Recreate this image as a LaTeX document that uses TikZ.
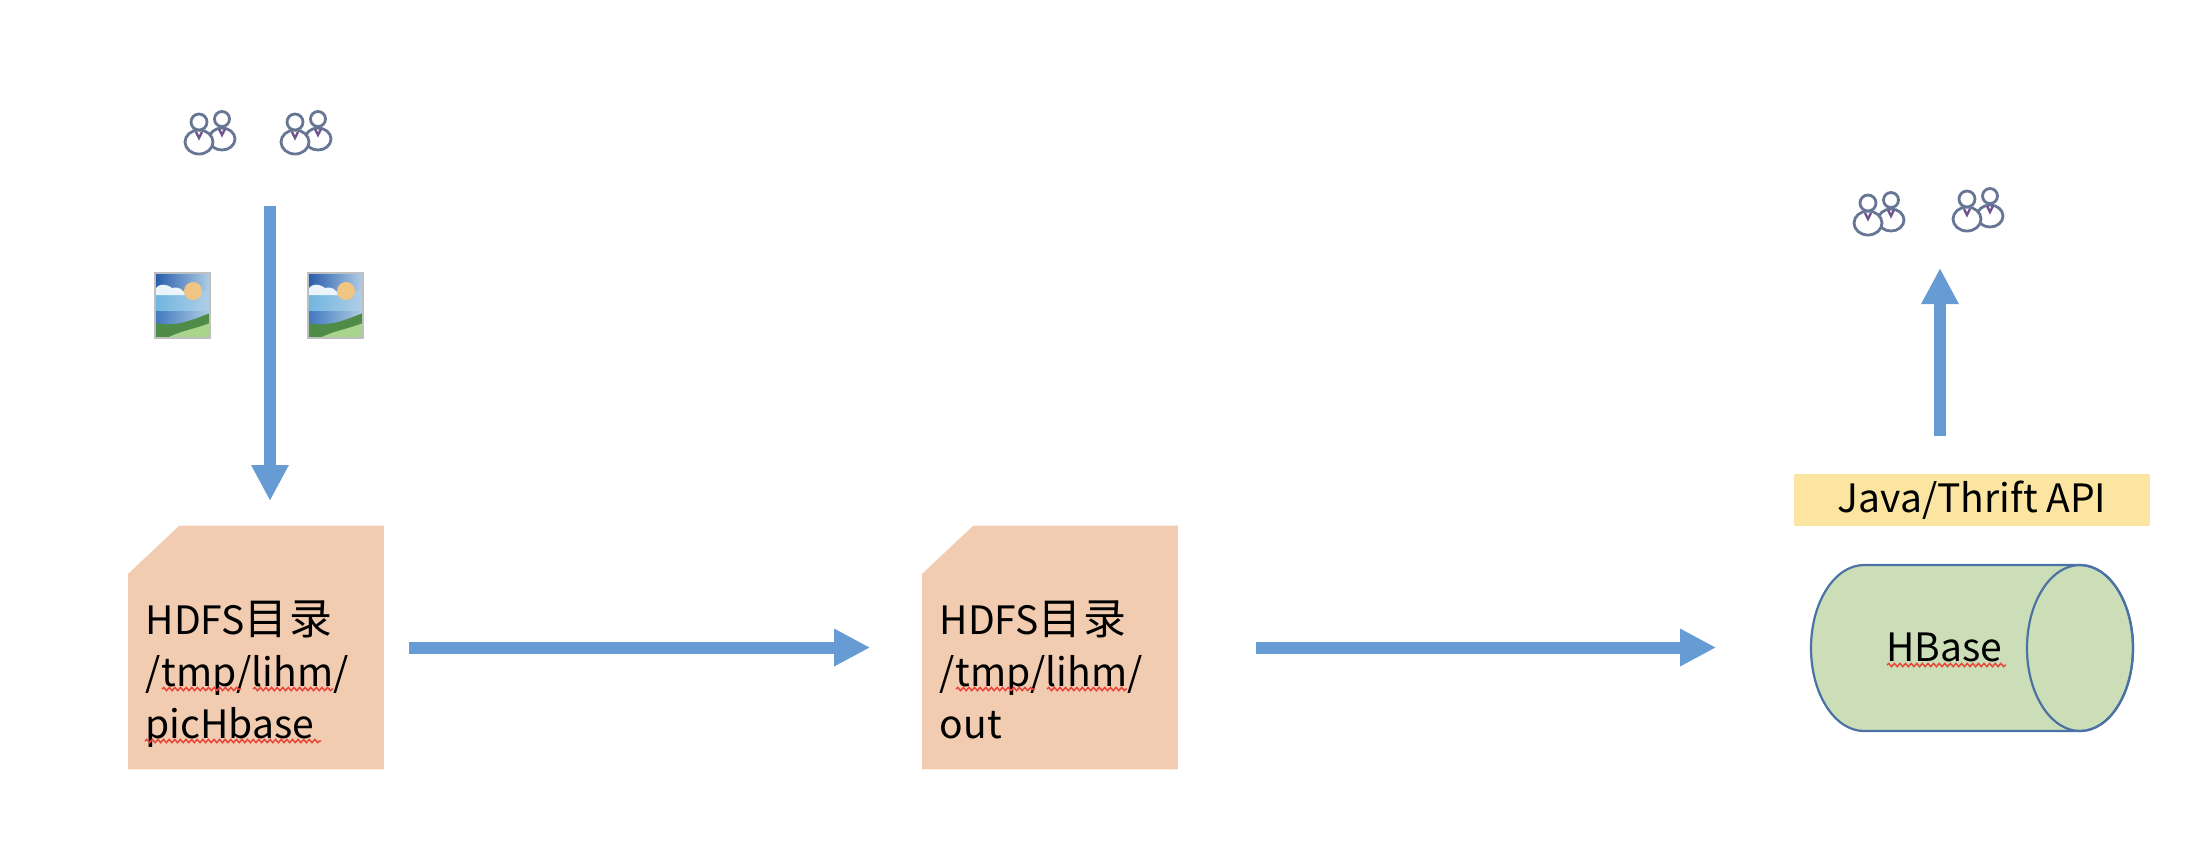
\documentclass[tikz,border=0pt]{standalone}
\usepackage{fontspec}
\setmainfont{Noto Sans CJK SC}
\definecolor{flowblue}{RGB}{103, 155, 211}
\definecolor{dirpeach}{RGB}{241, 204, 176}
\definecolor{apiyellow}{RGB}{251, 229, 160}
\definecolor{dbgreen}{RGB}{203, 222, 184}
\definecolor{dbedge}{RGB}{76, 114, 165}
\definecolor{waveRed}{RGB}{232, 70, 58}
\definecolor{iconblue}{RGB}{104, 118, 150}
\definecolor{skytop}{RGB}{40, 92, 172}
\definecolor{skyband}{RGB}{112, 182, 224}
\definecolor{skylight}{RGB}{176, 206, 230}
\definecolor{lakeblue}{RGB}{66, 120, 190}
\definecolor{hillgreen}{RGB}{78, 140, 72}
\definecolor{lawngreen}{RGB}{168, 212, 140}
\definecolor{sunpeach}{RGB}{240, 196, 130}
\usetikzlibrary{shapes, arrows.meta, positioning, calc, decorations.pathmorphing}
\newcommand{\mulu}{{\fontsize{12.2}{14.8}\selectfont 目\kern0.03em 录}}

\begin{document}
\begin{tikzpicture}[
  x=0.01cm, y=-0.01cm,
  dirbox/.style={minimum width=2.54cm, minimum height=2.42cm, inner sep=0pt},
  dirtext/.style={anchor=north west, align=left, inner sep=0pt, font=\fontsize{11.1}{14.8}\selectfont},
  plaintext/.style={inner sep=0pt, font=\fontsize{11.1}{14}\selectfont},
  flow/.style={line width=0.12cm, flowblue, -{Triangle[length=0.36cm, width=0.35cm]}},
  squiggle/.style={waveRed, line width=0.015cm, decorate, decoration={snake, segment length=0.056cm, amplitude=0.016cm}},
  people/.pic={
    \foreach \cx/\cy/\hr/\bx/\by in {12/-12/7.5/13/11, -11/-9/8/14/12} {
      \draw[iconblue, line width=0.028cm, fill=white] (\cx,\cy+20) ellipse[x radius=\bx, y radius=\by];
      \draw[iconblue, line width=0.028cm, fill=white] (\cx,\cy) circle[radius=\hr];
      \draw[iconblue!70!violet, line width=0.024cm] (\cx-3,\cy+10) -- (\cx,\cy+16) -- (\cx+3,\cy+10);
    }
  },
  photo/.pic={
    \begin{scope}
      \clip (0,0) rectangle (55,65);
      \fill[left color=skytop, right color=skylight] (0,0) rectangle (55,22);
      \fill[left color=skyband, right color=skylight] (0,18) rectangle (55,40);
      \fill[left color=lakeblue, right color=skylight] (0,38) rectangle (55,52);
      \fill[white!85!skyband] (0,22) .. controls (-2,11) and (10,9) .. (17,15) .. controls (24,13) and (29,17) .. (30,22) -- cycle;
      \fill[sunpeach] (38,18) circle[radius=9];
      \fill[hillgreen] (0,50) .. controls (20,54) and (35,48) .. (55,40) -- (55,65) -- (0,65) -- cycle;
      \fill[lawngreen] (12,65) .. controls (25,58) and (40,56) .. (55,50) -- (55,65) -- cycle;
    \end{scope}
    \draw[gray!50, line width=0.012cm] (0,0) rectangle (55,65);
  }
]
  \useasboundingbox (0,0) rectangle (2208,856);

  % Icons
  \pic (userA) at (210,131) {people};
  \pic (userB) at (306,131) {people};
  \pic (userC) at (1879,212) {people};
  \pic (userD) at (1978,208) {people};
  \pic (picA) at (155,273) {photo};
  \pic (picB) at (308,273) {photo};

  % Directories
  \node[dirbox] (srcdir) at (256,647.5) {};
  \node[dirbox] (outdir) at (1050,647.5) {};
  \foreach \boxname in {srcdir, outdir} {
    \fill[dirpeach] ($(\boxname.north west)+(51,0)$) -- (\boxname.north east) -- (\boxname.south east) -- (\boxname.south west) -- ($(\boxname.north west)+(0,48)$) -- cycle;
  }
  \node[dirtext] (srctext) at (145,600) {HDFS\mulu\\/tmp/lihm/\\picHbase};
  \node[dirtext] (outtext) at (939,600) {HDFS\mulu\\/tmp/lihm/\\out};

  % HBase column
  \node[minimum width=3.22cm, minimum height=1.66cm, inner sep=0pt] (hbase) at (1972,647.5) {};
  \draw[fill=dbgreen, draw=dbedge, line width=0.022cm] (2080,565) -- (1864,565) arc[start angle=270, end angle=90, x radius=53, y radius=83] -- (2080,731) arc[start angle=90, end angle=-90, x radius=53, y radius=83] -- cycle;
  \draw[draw=dbedge, line width=0.022cm] (2080,648) ellipse[x radius=53, y radius=83];
  \node[plaintext, anchor=base] (hbtext) at (1944,661) {HBase};
  \node[fill=apiyellow, minimum width=3.56cm, minimum height=0.52cm, inner sep=0pt, font=\fontsize{11.1}{14}\selectfont] (api) at (1972,500) {Java/Thrift API};

  % Flow arrows
  \coordinate (upload) at (270,206);
  \coordinate (uptip) at (270,501);
  \coordinate (apitop) at (1940,436);
  \coordinate (apitip) at (1940,268);
  \draw[flow] (upload) -- (uptip);
  \draw[flow, shorten <=0.25cm, shorten >=0.52cm] (srcdir) -- (outdir);
  \draw[flow, shorten <=0.78cm, shorten >=0.94cm] (outdir) -- (hbase);
  \draw[flow] (apitop) -- (apitip);

  % Spell check marks
  \foreach \ox in {0, 794} {
    \draw[squiggle] (162+\ox,689) -- (241+\ox,689);
    \draw[squiggle] (253+\ox,689) -- (333+\ox,689);
  }
  \draw[squiggle] (145,741) -- (321,741);
  \draw[squiggle] (1887,665) -- (2006,665);
\end{tikzpicture}
\end{document}
